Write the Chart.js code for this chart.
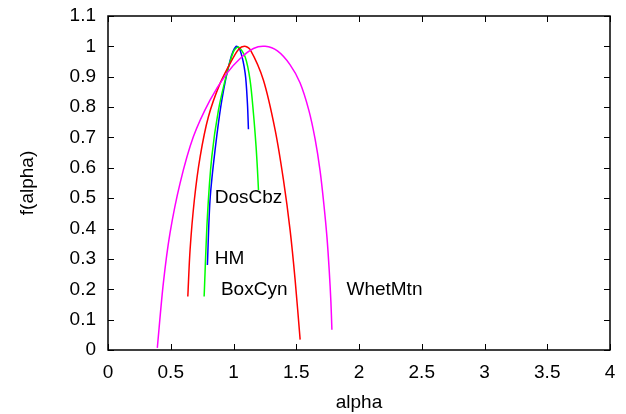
<!DOCTYPE html>
<html>
<head>
<meta charset="utf-8">
<script src="https://cdn.jsdelivr.net/npm/chart.js@4"></script>
<style>
  html, body { margin: 0; padding: 0; background: #fff; }
  #wrap { width: 626px; height: 414px; }
</style>
</head>
<body>
<div id="wrap"><canvas id="c" width="626" height="414"></canvas></div>
<script>
// ---- data ----
const xTickLabels = ['0', '0.5', '1', '1.5', '2', '2.5', '3', '3.5', '4'];
const yTickLabels = ['0', '0.1', '0.2', '0.3', '0.4', '0.5', '0.6', '0.7', '0.8', '0.9', '1', '1.1'];

// red curve
const redAlpha = [0.636, 0.654, 0.688, 0.734, 0.800, 0.893, 0.986, 1.040, 1.087, 1.132, 1.238, 1.332, 1.398, 1.451, 1.491, 1.531];
const redF     = [0.176, 0.330, 0.494, 0.636, 0.768, 0.878, 0.954, 0.990, 1.000, 0.990, 0.889, 0.724, 0.560, 0.395, 0.231, 0.034];

// green curve
const greenAlpha = [0.766, 0.792, 0.827, 0.880, 0.947, 0.999, 1.039, 1.093, 1.132, 1.159, 1.180, 1.191, 1.199];
const greenF     = [0.176, 0.439, 0.636, 0.790, 0.911, 0.982, 0.998, 0.965, 0.889, 0.779, 0.669, 0.593, 0.527];

// blue curve
const blueAlpha = [0.792, 0.813, 0.853, 0.907, 0.973, 1.021, 1.053, 1.093, 1.111, 1.119];
const blueF     = [0.280, 0.494, 0.658, 0.823, 0.954, 1.000, 0.987, 0.911, 0.812, 0.727];

// magenta curve
const magAlpha = [0.393, 0.441, 0.494, 0.574, 0.680, 0.813, 0.947, 1.053, 1.159, 1.252, 1.350, 1.450, 1.530, 1.600, 1.650, 1.690, 1.720, 1.745, 1.763, 1.776, 1.784];
const magF     = [0.007, 0.220, 0.385, 0.549, 0.702, 0.823, 0.911, 0.960, 0.993, 1.000, 0.985, 0.940, 0.880, 0.790, 0.695, 0.590, 0.480, 0.370, 0.260, 0.160, 0.067];

// text labels inside the plot (data coordinates)
const labelTexts = ['DosCbz', 'HM', 'BoxCyn', 'WhetMtn'];
const labelAlpha = [0.85, 0.85, 0.90, 1.90];
const labelF     = [0.50, 0.30, 0.20, 0.20];

const toPts = (xs, ys) => xs.map((x, i) => ({ x: x, y: ys[i] }));

const FONT = { family: "'Liberation Sans', Arial, Helvetica, sans-serif", size: 19 };

const framePlugin = {
  id: 'frame',
  afterDatasetsDraw(chart) {
    const { ctx, chartArea: a, scales: { x, y } } = chart;
    ctx.save();
    ctx.strokeStyle = '#000';
    ctx.lineWidth = 1.5;
    ctx.strokeRect(a.left, a.top, a.right - a.left, a.bottom - a.top);
    const tl = 6;
    ctx.lineWidth = 1;
    ctx.beginPath();
    x.ticks.forEach(t => {
      const px = Math.round(x.getPixelForValue(t.value)) + 0.5;
      ctx.moveTo(px, a.bottom); ctx.lineTo(px, a.bottom - tl);
      ctx.moveTo(px, a.top); ctx.lineTo(px, a.top + tl);
    });
    y.ticks.forEach(t => {
      const py = Math.round(y.getPixelForValue(t.value)) + 0.5;
      ctx.moveTo(a.left, py); ctx.lineTo(a.left + tl, py);
      ctx.moveTo(a.right, py); ctx.lineTo(a.right - tl, py);
    });
    ctx.stroke();
    // labels
    ctx.fillStyle = '#000';
    ctx.font = FONT.size + 'px ' + FONT.family;
    ctx.textAlign = 'left';
    ctx.textBaseline = 'middle';
    labelTexts.forEach((s, i) => {
      ctx.fillText(s, x.getPixelForValue(labelAlpha[i]), y.getPixelForValue(labelF[i]));
    });
    ctx.restore();
  }
};

const mk = (label, xs, ys, color) => ({
  label: label,
  data: toPts(xs, ys),
  borderColor: color,
  backgroundColor: color,
  borderWidth: 1.5,
  showLine: true,
  pointRadius: 0,
  fill: false,
  tension: 0.3
});

new Chart(document.getElementById('c'), {
  type: 'scatter',
  data: {
    datasets: [
      mk('magenta', magAlpha, magF, '#ff00ff'),
      mk('red', redAlpha, redF, '#ff0000'),
      mk('green', greenAlpha, greenF, '#00ff00'),
      mk('blue', blueAlpha, blueF, '#0000ff')
    ]
  },
  options: {
    responsive: false,
    animation: false,
    devicePixelRatio: 1,
    layout: { padding: { top: 16, right: 16, left: 0, bottom: 0 } },
    plugins: { legend: { display: false }, tooltip: { enabled: false } },
    scales: {
      x: {
        type: 'linear', min: 0, max: 4,
        ticks: { stepSize: 0.5, padding: 11, font: FONT, color: '#000',
                 maxRotation: 0, autoSkip: false,
                 callback: (v, i) => xTickLabels[i] },
        grid: { display: false, drawTicks: false },
        border: { display: false },
        title: { display: true, text: 'alpha', font: FONT, color: '#000', padding: { top: 0, bottom: 0 } },
        afterFit: s => { s.height = 64; s.paddingLeft = 0; s.paddingRight = 0; }
      },
      y: {
        type: 'linear', min: 0, max: 1.1,
        ticks: { stepSize: 0.1, padding: 12, font: FONT, color: '#000', autoSkip: false,
                 callback: (v, i) => yTickLabels[i] },
        grid: { display: false, drawTicks: false },
        border: { display: false },
        title: { display: true, text: 'f(alpha)', font: FONT, color: '#000', padding: { top: 16, bottom: 0 } },
        afterFit: s => { s.width = 108; s.paddingTop = 0; s.paddingBottom = 0; }
      }
    }
  },
  plugins: [framePlugin]
});
</script>
</body>
</html>
